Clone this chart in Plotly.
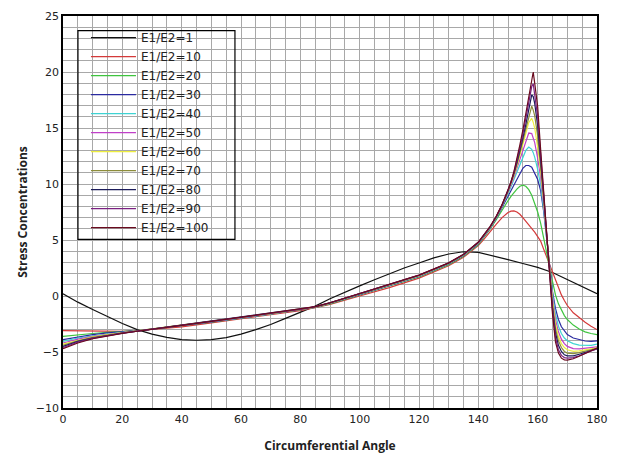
import plotly.graph_objects as go

# ---------------- data ----------------
angle_black = [0, 5, 10, 15, 20, 25, 30, 35, 40, 45, 50, 55, 60, 65, 70, 75, 80, 85, 90,
               95, 100, 105, 110, 115, 120, 125, 130, 135, 140, 145, 150, 155, 160, 165, 170, 175, 180]
ratio_1 = [0.2, -0.55, -1.2, -1.85, -2.45, -3.0, -3.4, -3.7, -3.9, -3.95, -3.9, -3.72, -3.4, -3.0, -2.55, -2.0,
           -1.45, -0.9, -0.25, 0.35, 0.9, 1.45, 2.0, 2.5, 2.95, 3.4, 3.75, 3.95, 3.9, 3.6, 3.25, 2.9, 2.55, 2.1,
           1.45, 0.8, 0.2]

angle = [0, 5, 10, 15, 20, 25, 30, 40, 50, 60, 70, 80, 85, 90, 100, 110, 120, 130, 135,
         140, 142, 144, 146, 148, 150, 151, 152, 153, 154, 155, 156, 157, 158, 158.5, 159, 160,
         161, 162, 163, 164, 165, 166, 167, 168, 169, 170, 172, 174, 176, 178, 180]

ratio_10 = [-3.1, -3.12, -3.14, -3.15, -3.15, -3.1, -3.0, -2.75, -2.4, -2.05, -1.7, -1.3, -1.05, -0.75, 0.0, 0.75, 1.6, 2.7, 3.45,
            4.5, 5.1, 5.8, 6.4, 7.0, 7.45, 7.58, 7.6, 7.5, 7.3, 7.0, 6.7, 6.4, 6.1, 5.9, 5.7, 5.3,
            4.9, 4.2, 3.5, 2.8, 2.1, 1.4, 0.7, 0.1, -0.4, -0.85, -1.5, -1.95, -2.35, -2.7, -3.0]
ratio_20 = [-3.6, -3.45, -3.35, -3.25, -3.2, -3.1, -2.97, -2.68, -2.33, -1.98, -1.62, -1.26, -1.02, -0.7, 0.08, 0.85, 1.7, 2.8, 3.55,
            4.6, 5.25, 6.0, 6.8, 7.7, 8.5, 8.9, 9.25, 9.55, 9.8, 9.9, 9.8, 9.5, 9.0, 8.65, 8.3, 7.5,
            6.5, 5.3, 3.9, 2.5, 1.2, 0.1, -0.7, -1.3, -1.75, -2.1, -2.6, -2.95, -3.2, -3.35, -3.45]
ratio_30 = [-3.9, -3.65, -3.45, -3.3, -3.22, -3.1, -2.96, -2.66, -2.31, -1.96, -1.6, -1.25, -1.0, -0.67, 0.12, 0.9, 1.75, 2.85, 3.6,
            4.65, 5.3, 6.05, 6.9, 7.9, 8.9, 9.4, 9.95, 10.5, 11.0, 11.4, 11.65, 11.65, 11.5, 11.25, 11.0, 10.4,
            9.4, 7.6, 5.2, 2.6, 0.4, -1.1, -2.1, -2.75, -3.15, -3.45, -3.75, -3.92, -4.02, -4.05, -4.0]
ratio_40 = [-4.05, -3.75, -3.55, -3.38, -3.25, -3.12, -2.96, -2.65, -2.3, -1.95, -1.59, -1.24, -1.0, -0.65, 0.15, 0.93, 1.78, 2.88, 3.63,
            4.7, 5.35, 6.1, 6.95, 8.0, 9.1, 9.75, 10.4, 11.1, 11.8, 12.5, 13.0, 13.3, 13.1, 12.8, 12.4, 11.3,
            9.9, 7.8, 5.2, 2.6, 0.2, -1.6, -2.7, -3.35, -3.75, -4.0, -4.25, -4.38, -4.42, -4.4, -4.3]
ratio_50 = [-4.2, -3.85, -3.6, -3.42, -3.27, -3.12, -2.96, -2.65, -2.3, -1.94, -1.58, -1.23, -0.99, -0.64, 0.17, 0.95, 1.8, 2.9, 3.65,
            4.72, 5.38, 6.12, 7.0, 8.05, 9.25, 9.9, 10.6, 11.4, 12.2, 13.1, 13.9, 14.55, 14.5, 14.15, 13.7, 12.3,
            10.6, 8.2, 5.3, 2.5, -0.1, -2.1, -3.2, -3.85, -4.25, -4.5, -4.7, -4.72, -4.68, -4.62, -4.55]
ratio_60 = [-4.3, -3.95, -3.65, -3.45, -3.28, -3.13, -2.96, -2.65, -2.29, -1.93, -1.57, -1.22, -0.98, -0.63, 0.18, 0.97, 1.82, 2.92, 3.67,
            4.74, 5.4, 6.14, 7.02, 8.08, 9.3, 10.0, 10.75, 11.6, 12.5, 13.5, 14.5, 15.5, 15.85, 15.5, 15.0, 13.3,
            11.2, 8.5, 5.4, 2.4, -0.4, -2.5, -3.6, -4.25, -4.6, -4.8, -4.95, -4.9, -4.8, -4.7, -4.62]
ratio_70 = [-4.4, -4.0, -3.7, -3.47, -3.3, -3.13, -2.96, -2.64, -2.28, -1.92, -1.56, -1.21, -0.97, -0.62, 0.19, 0.98, 1.84, 2.93, 3.68,
            4.76, 5.42, 6.16, 7.04, 8.1, 9.35, 10.05, 10.85, 11.75, 12.7, 13.8, 14.9, 16.0, 16.95, 16.6, 16.1, 14.3,
            11.8, 8.8, 5.5, 2.3, -0.7, -2.9, -4.0, -4.6, -4.95, -5.1, -5.15, -5.05, -4.92, -4.8, -4.68]
ratio_80 = [-4.5, -4.05, -3.75, -3.5, -3.31, -3.14, -2.96, -2.64, -2.28, -1.92, -1.56, -1.2, -0.96, -0.61, 0.2, 0.99, 1.85, 2.94, 3.7,
            4.78, 5.44, 6.18, 7.06, 8.12, 9.4, 10.1, 10.95, 11.9, 12.9, 14.1, 15.3, 16.6, 17.95, 17.8, 17.2, 15.2,
            12.3, 9.0, 5.6, 2.2, -1.0, -3.3, -4.4, -4.95, -5.25, -5.35, -5.35, -5.2, -5.02, -4.87, -4.72]
ratio_90 = [-4.6, -4.12, -3.78, -3.52, -3.32, -3.14, -2.96, -2.64, -2.27, -1.91, -1.55, -1.2, -0.95, -0.6, 0.21, 1.0, 1.86, 2.95, 3.71,
            4.8, 5.46, 6.2, 7.08, 8.14, 9.45, 10.15, 11.05, 12.05, 13.2, 14.4, 15.8, 17.2, 18.7, 18.95, 18.0, 16.0,
            12.7, 9.2, 5.7, 2.1, -1.3, -3.7, -4.8, -5.3, -5.5, -5.55, -5.5, -5.33, -5.1, -4.9, -4.72]
ratio_100 = [-4.7, -4.2, -3.82, -3.55, -3.33, -3.15, -2.96, -2.63, -2.27, -1.91, -1.55, -1.19, -0.95, -0.6, 0.22, 1.01, 1.87, 2.96, 3.72,
             4.82, 5.48, 6.22, 7.1, 8.16, 9.5, 10.2, 11.1, 12.2, 13.5, 14.8, 16.3, 17.8, 19.4, 20.0, 19.0, 16.9,
             13.1, 9.4, 5.8, 2.0, -1.6, -4.1, -5.1, -5.55, -5.7, -5.72, -5.6, -5.38, -5.12, -4.88, -4.65]

series_names = ["E1/E2=10", "E1/E2=20", "E1/E2=30", "E1/E2=40", "E1/E2=50",
                "E1/E2=60", "E1/E2=70", "E1/E2=80", "E1/E2=90", "E1/E2=100"]
series_values = [ratio_10, ratio_20, ratio_30, ratio_40, ratio_50,
                 ratio_60, ratio_70, ratio_80, ratio_90, ratio_100]
series_colors = ["#d43a3a", "#3fc43f", "#2a2aa0", "#3fd3d3", "#c040c8",
                 "#eeee40", "#8c8c3a", "#1c1c5a", "#7a2080", "#6a0a1e"]

x_ticks = [0, 20, 40, 60, 80, 100, 120, 140, 160, 180]
y_ticks = [-10, -5, 0, 5, 10, 15, 20, 25]

# ---------------- figure ----------------
fig = go.Figure()
fig.add_trace(go.Scatter(x=angle_black, y=ratio_1, mode="lines", name="E1/E2=1",
                         line=dict(color="#111111", width=1.2)))
for name, vals, col in zip(series_names, series_values, series_colors):
    fig.add_trace(go.Scatter(x=angle, y=vals, mode="lines", name=name,
                             line=dict(color=col, width=1.2)))

grid_col = "#a8a8a8"
tick_font = dict(family="DejaVu Sans", size=11, color="#222222")

fig.update_layout(
    width=623, height=461,
    margin=dict(l=63, r=26, t=10, b=51),
    paper_bgcolor="white", plot_bgcolor="white",
    showlegend=True,
    legend=dict(x=0.043, y=0.982, xanchor="left", yanchor="top",
                bgcolor="rgba(0,0,0,0)", borderwidth=0,
                font=dict(family="DejaVu Sans", size=12, color="#222222"),
                tracegroupgap=0, itemwidth=45),
    shapes=[dict(type="rect", xref="paper", yref="paper",
                 x0=0.028, x1=0.322, y0=0.43, y1=0.9625,
                 line=dict(color="black", width=1.2), fillcolor="rgba(0,0,0,0)")],
)

fig.update_xaxes(range=[0, 180], tickvals=x_ticks, ticks="", showgrid=True,
                 gridcolor=grid_col, gridwidth=1,
                 minor=dict(dtick=5, showgrid=True, gridcolor=grid_col, gridwidth=1),
                 showline=True, linecolor="black", linewidth=1.5, mirror=True,
                 zeroline=False, tickfont=tick_font,
                 title=dict(text="<b>Circumferential Angle</b>",
                            font=dict(family="Open Sans", size=12, color="#222222"), standoff=17))
fig.update_yaxes(range=[-10, 25], tickvals=y_ticks, ticks="", showgrid=True,
                 gridcolor=grid_col, gridwidth=1,
                 minor=dict(dtick=1, showgrid=True, gridcolor=grid_col, gridwidth=1),
                 showline=True, linecolor="black", linewidth=1.5, mirror=True,
                 zeroline=False, tickfont=tick_font,
                 title=dict(text="<b>Stress Concentrations</b>",
                            font=dict(family="Open Sans", size=12, color="#222222"), standoff=6))

fig.write_html("out.html")
